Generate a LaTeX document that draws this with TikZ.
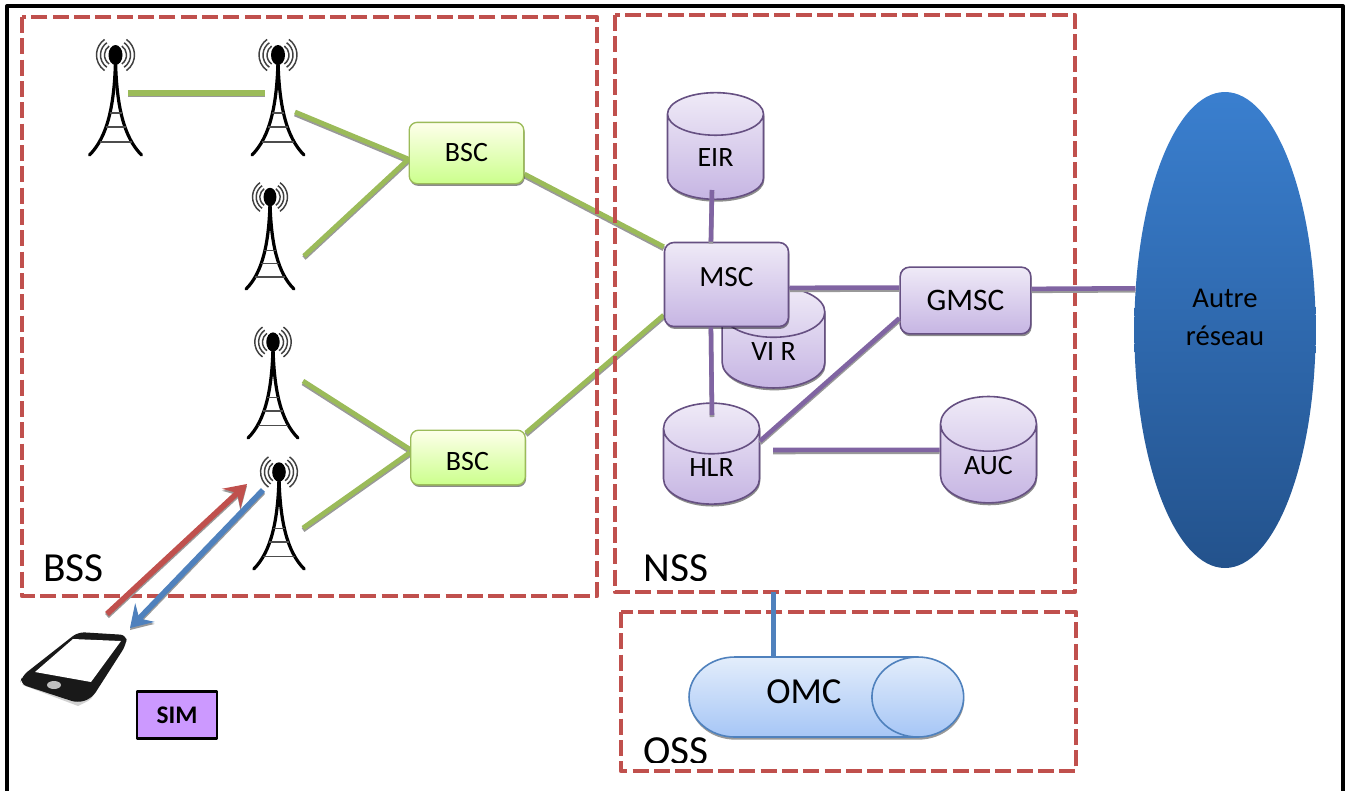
\documentclass[tikz,border=0pt]{standalone}
\usepackage{fontspec}
\setmainfont{Carlito}
\usetikzlibrary{arrows.meta,backgrounds,shadows,shapes.geometric}
\definecolor{zonered}{HTML}{C0504D}
\definecolor{linkgreen}{HTML}{9BBB59}
\definecolor{linkpurple}{HTML}{8064A2}
\definecolor{linkblue}{HTML}{4F81BD}
\definecolor{mautop}{HTML}{EFEAF7}
\definecolor{maubot}{HTML}{C6B5E3}
\definecolor{simfill}{HTML}{CC99FF}
\definecolor{reseautop}{HTML}{3A7FCF}
\definecolor{reseaubot}{HTML}{23528C}
\definecolor{omctop}{HTML}{E3EDFB}
\definecolor{omcbot}{HTML}{A6C6F6}
\tikzset{
	zone/.style={draw=zonered, line width=3.6pt, dash pattern=on 12pt off 4pt},
	link/.style={line width=#1, preaction={draw=gray!80, line width=#1, transform canvas={yshift=-1.5pt}}},
	glink/.style={link=3.6pt, draw=linkgreen},
	plink/.style={link=3.4pt, draw=linkpurple},
	bscbox/.style={draw=linkgreen, line width=1pt, rounded corners=6pt, top color=green!5!yellow!8, bottom color=green!45!yellow!45, drop shadow={shadow xshift=0.6pt, shadow yshift=-1.6pt, fill=black, opacity=0.45}, minimum width=86pt, font=\fontsize{21}{25}\selectfont},
	mscbox/.style={draw=linkpurple!80!black, line width=1.2pt, rounded corners=7pt, top color=mautop, bottom color=maubot, drop shadow={shadow xshift=0.6pt, shadow yshift=-1.8pt, fill=black, opacity=0.45}, font=\fontsize{22}{26}\selectfont},
	dbcyl/.style={cylinder, shape border rotate=90, aspect=0.95, draw=linkpurple!80!black, line width=1.2pt, top color=mautop, bottom color=maubot, minimum width=72pt, text depth=6pt, drop shadow={shadow xshift=0.6pt, shadow yshift=-1.8pt, fill=black, opacity=0.45}, font=\fontsize{21}{25}\selectfont},
	zonelabel/.style={font=\fontsize{31}{36}\selectfont, inner sep=0pt},
	tower/.pic={
		\fill (0,0) ellipse (7 and 10);
		\draw[line width=2.4pt, line cap=round] (0,5) .. controls (-1,50) and (-8,82) .. (-26,100);
		\draw[line width=2.4pt, line cap=round] (0,5) .. controls (1,50) and (8,82) .. (26,100);
		\foreach \yr/\wr in {58/6,72/10,87/16}
			\draw[line width=1pt, black!70] (-\wr,\yr)--(\wr,\yr);
		\foreach \rr in {11,15,19}{
			\draw[line width=1.1pt, black!75] (125:\rr) arc (125:235:\rr);
			\draw[line width=1.1pt, black!75] (55:\rr) arc (55:-55:\rr);
		}
	}
}
\begin{document}
\begin{tikzpicture}[x=0.75pt, y=-0.75pt, line join=round, >=stealth]
	\clip (0,0) rectangle (1352,790);
	\draw[line width=3pt] (7,800)--(7,6)--(1343,6)--(1343,800);
	
	\draw[zone] (22,17) rectangle (597,596);
	\draw[zone] (615,15) rectangle (1075,592);
	\draw[zone] (621,612) rectangle (1076,771);
	
	\pic at (115.5,55) {tower};
	\pic at (278,55) {tower};
	\pic[scale=0.92] at (270,197) {tower};
	\pic[scale=0.96] at (273,342) {tower};
	\pic[scale=0.97] at (279,472) {tower};
	
	\coordinate (ant1) at (128,93);
	\coordinate (ant2a) at (265,93);
	\coordinate (ant2b) at (295,112);
	\coordinate (ant3) at (304,256);
	\coordinate (ant4) at (303,381);
	\coordinate (ant5) at (303,528);
	\coordinate (ant5a) at (247,484);
	\coordinate (ant5b) at (263,490);
	\coordinate (mobA) at (107,614);
	\coordinate (mobB) at (130,628);
	
	\node[dbcyl, minimum width=77pt, minimum height=70pt] (vlr) at (773.5,355.5) {VI R};
	\node[bscbox, minimum height=46pt] (bsc1) at (466.5,153) {BSC};
	\node[bscbox, minimum height=41pt] (bsc2) at (468,457.5) {};
	\node[dbcyl, minimum height=80pt] (eir) at (715.5,161.5) {EIR};
	\node[dbcyl, minimum height=71pt] (hlr) at (711.5,472) {HLR};
	\node[dbcyl, minimum height=75pt] (auc) at (988.5,469.5) {AUC};
	\node[mscbox, minimum width=93pt, minimum height=63pt, text depth=12pt] (msc) at (726.5,284.5) {MSC};
	\node[mscbox, minimum width=98pt, minimum height=50pt, font=\fontsize{23.5}{28}\selectfont] (gmsc) at (965.5,300.5) {GMSC};
	\node[ellipse, minimum width=136pt, minimum height=357pt, inner sep=0pt, top color=reseautop, bottom color=reseaubot, align=center, font=\fontsize{21.5}{28.5}\selectfont] (autre) at (1225,330) {Autre\\réseau\\[-10pt]\mbox{}};
	\node[cylinder, aspect=2.15, draw=linkblue, line width=1.2pt, top color=omctop, bottom color=omcbot, minimum height=206pt, minimum width=60pt, text depth=7.5pt, drop shadow={shadow xshift=0.4pt, shadow yshift=-2pt, fill=black, opacity=0.4}, font=\fontsize{27.5}{33}\selectfont] (omc) at (792.5,697) {\hspace*{17pt}OMC};
	\node[draw, line width=1.9pt, fill=simfill, minimum width=60pt, minimum height=35pt, font=\bfseries\fontsize{19}{23}\selectfont] (sim) at (177,715) {SIM};
	
	%texte coupe
	\begin{scope}
		\clip (420,440) rectangle (520,469.5);
		\node[font=\fontsize{21}{25}\selectfont] (bsc2txt) at (467.5,461) {BSC};
	\end{scope}
	\node[zonelabel] (bss) at (73.5,568) {BSS};
	\begin{scope}
		\clip (630,540) rectangle (730,580);
		\node[zonelabel] (nss) at (676,568) {NSS};
	\end{scope}
	\begin{scope}
		\clip (630,720) rectangle (730,762);
		\node[zonelabel] (oss) at (676,751) {OSS};
	\end{scope}
	
	\begin{scope}[on background layer]
		\draw[glink, line width=5pt] (ant1)--(ant2a);
		\draw[glink] (ant2b)--(bsc1.186);
		\draw[glink] (ant3)--(bsc1.186);
		\draw[glink] (bsc1.-20)--(msc.149);
		\draw[glink] (msc.206)--(bsc2.23);
		\draw[glink] (ant4)--(bsc2.172);
		\draw[glink] (ant5)--(bsc2.175);
	\end{scope}
	
	\coordinate (eirin) at (712,190);
	\coordinate (hlrin) at (712,415);
	\coordinate (hlrgap) at (773,450);
	\coordinate (hlrout) at (760,441);
	\coordinate (nssbot) at (773.5,592);
	\draw[plink] (eirin)--(msc.110);
	\draw[plink] (msc.-110)--(hlrin);
	\draw[plink] (msc.-3)--(gmsc.169);
	\draw[plink] (hlrout)--(gmsc.195);
	\draw[plink] (hlrgap)--(auc.158);
	\draw[plink] (gmsc.10)--(autre.155);
	\draw[line width=3.6pt, linkblue] (nssbot)--(nssbot |- omc.north);
	
	%telephone
	\fill[gray!35] (20,684) -- (78,706) [rounded corners=3pt] -- (92,699) -- (100,680) -- (40,680) -- cycle;
	\fill[black!90, rounded corners=5pt] (78,632) -- (127,635) -- (126,645) -- (92,698) -- (78,703) -- (20,684) -- (22,676) -- cycle;
	\fill[white] (73,639) -- (121,641) -- (91,682) -- (35,672) -- cycle;
	\fill[gray!50] (54,685) ellipse (7 and 4);
	
	\draw[-{Stealth[length=16pt, width=20pt, inset=6pt]}, link=4.2pt, draw=zonered] (mobA)--(ant5a);
	\draw[-{Stealth[length=16pt, width=20pt, inset=6pt]}, link=4.2pt, draw=linkblue] (ant5b)--(mobB);
\end{tikzpicture}
\end{document}
